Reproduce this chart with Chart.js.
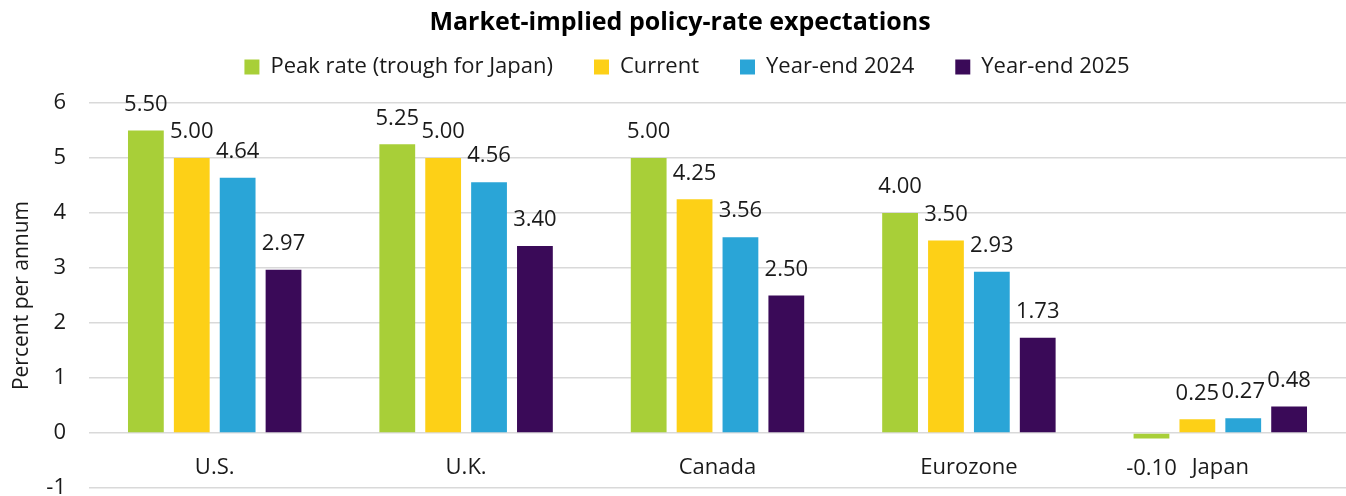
<!DOCTYPE html>
<html>
<head>
<meta charset="utf-8">
<script src="https://cdn.jsdelivr.net/npm/chart.js@4.4.1/dist/chart.umd.min.js"></script>
<style>
html,body{margin:0;padding:0;background:#fff;}
#wrap{width:1346px;height:496px;position:relative;}
</style>
</head>
<body>
<div id="wrap"><canvas id="c"></canvas></div>
<script>
const categories = ["U.S.", "U.K.", "Canada", "Eurozone", "Japan"];
const peakRate = [5.50, 5.25, 5.00, 4.00, -0.10];
const current = [5.00, 5.00, 4.25, 3.50, 0.25];
const yearEnd2024 = [4.64, 4.56, 3.56, 2.93, 0.27];
const yearEnd2025 = [2.97, 3.40, 2.50, 1.73, 0.48];
const seriesNames = ["Peak rate (trough for Japan)", "Current", "Year-end 2024", "Year-end 2025"];
const yTicks = [-1, 0, 1, 2, 3, 4, 5, 6];

const FONT = "'Open Sans', 'Noto Sans', sans-serif";
const TEXT = "#1a1a1a";
const colors = ["#A8CF38", "#FDD017", "#2AA5D7", "#3A0A58"];
const seriesData = [peakRate, current, yearEnd2024, yearEnd2025];

const dataLabels = {
  id: 'dataLabels',
  afterDatasetsDraw(chart) {
    const ctx = chart.ctx;
    ctx.save();
    ctx.font = "22px " + FONT;
    ctx.fillStyle = TEXT;
    ctx.textAlign = "center";
    ctx.textBaseline = "middle";
    chart.data.datasets.forEach((ds, i) => {
      const meta = chart.getDatasetMeta(i);
      meta.data.forEach((el, j) => {
        const v = ds.data[j];
        const txt = v.toFixed(2);
        if (v >= 0) ctx.fillText(txt, el.x, el.y - 26);
        else ctx.fillText(txt, el.x, el.y + 30);
      });
    });
    ctx.restore();
  }
};

const legendFix = {
  id: 'legendFix',
  beforeLayout(chart) {
    const lg = chart.legend;
    if (lg && !lg._patched) {
      const f = lg.fit.bind(lg);
      lg.fit = function () { f(); this.height = 88; };
      lg._patched = true;
    }
  },
  afterLayout(chart) {
    const lg = chart.legend;
    if (lg) { lg.left += 7; lg.right += 7; }
  }
};

new Chart(document.getElementById('c'), {
  type: 'bar',
  data: {
    labels: categories,
    datasets: seriesNames.map((n, i) => ({
      label: n,
      data: seriesData[i],
      backgroundColor: colors[i],
      borderWidth: 0,
      categoryPercentage: 0.73,
      barPercentage: 0.78
    }))
  },
  options: {
    responsive: true,
    maintainAspectRatio: false,
    animation: false,
    layout: { padding: { top: 0, right: 0, bottom: 8, left: 14 } },
    plugins: {
      title: {
        display: true,
        text: "Market-implied policy-rate expectations",
        color: "#000",
        font: { family: FONT, size: 25, weight: 'bold', lineHeight: 1.2 },
        padding: { top: 8, bottom: -23 }
      },
      legend: {
        display: true,
        position: 'top',
        labels: {
          color: TEXT,
          font: { family: FONT, size: 22 },
          boxWidth: 15,
          boxHeight: 15,
          padding: 41
        }
      },
      tooltip: { enabled: false }
    },
    scales: {
      x: {
        position: { y: 0 },
        grid: { display: false, drawTicks: false },
        border: { display: false },
        ticks: { color: TEXT, font: { family: FONT, size: 22 }, padding: 22 }
      },
      y: {
        min: -1,
        max: 6,
        afterBuildTicks(scale) { scale.ticks = yTicks.map(v => ({ value: v })); },
        afterFit(scale) { scale.width = 75; scale.paddingTop = 0; scale.paddingBottom = 0; },
        grid: { color: "#d9d9d9", lineWidth: 1.5, drawTicks: false },
        border: { display: false },
        ticks: { color: TEXT, font: { family: FONT, size: 22 }, padding: 23 },
        title: {
          display: true,
          text: "Percent per annum",
          color: TEXT,
          font: { family: FONT, size: 21, lineHeight: 0.8 },
          padding: { top: 0, bottom: 0 }
        }
      }
    }
  },
  plugins: [dataLabels, legendFix]
});
</script>
</body>
</html>
